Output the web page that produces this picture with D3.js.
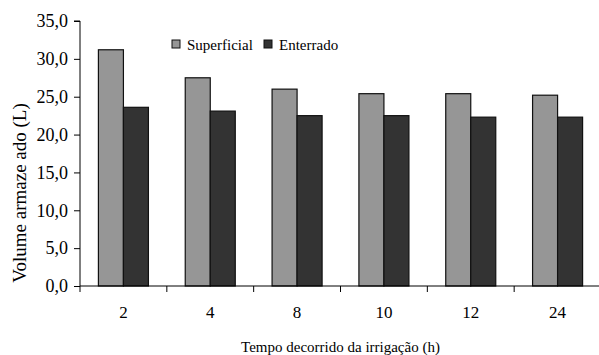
<!DOCTYPE html>
<html>
<head>
<meta charset="utf-8">
<script src="https://cdn.jsdelivr.net/npm/d3@7"></script>
<style>
  body { margin: 0; background: #fff; }
</style>
</head>
<body>
<svg id="chart" width="599" height="355"></svg>
<script>
const categories = ["2", "4", "8", "10", "12", "24"];
const seriesNames = ["Superficial", "Enterrado"];
const superficial = [31.2, 27.5, 26.0, 25.4, 25.4, 25.2];
const enterrado = [23.6, 23.1, 22.5, 22.5, 22.3, 22.3];
const yTicks = [0, 5, 10, 15, 20, 25, 30, 35];
const colors = ["#969696", "#333333"];

const serif = "'Liberation Serif', 'DejaVu Serif', Times, serif";
const svg = d3.select("#chart");
const plotLeft = 80, plotRight = 601, plotTop = 21, plotBottom = 286;

const rows = categories.map((c, i) => ({ cat: c, values: [superficial[i], enterrado[i]] }));

const x0 = d3.scaleBand().domain(categories).range([plotLeft, plotRight]).padding(0);
const x1 = d3.scaleBand().domain(seriesNames).range([0, x0.bandwidth()])
    .paddingInner(0).paddingOuter(0.736);
const y = d3.scaleLinear().domain([0, 35]).range([plotBottom, plotTop]);
const fmt = v => d3.format(".1f")(v).replace(".", ",");

// bars
const groups = svg.append("g").selectAll("g")
    .data(rows)
    .join("g")
    .attr("transform", d => `translate(${x0(d.cat)},0)`);

groups.selectAll("rect")
    .data(d => d.values.map((v, i) => ({ name: seriesNames[i], value: v, i })))
    .join("rect")
    .attr("x", d => x1(d.name))
    .attr("y", d => y(d.value))
    .attr("width", x1.bandwidth())
    .attr("height", d => y(0) - y(d.value))
    .attr("fill", d => colors[d.i])
    .attr("stroke", "#111")
    .attr("stroke-width", 1.2);

// y axis
const yAxis = svg.append("g")
    .attr("transform", `translate(${plotLeft},0)`)
    .call(d3.axisLeft(y).tickValues(yTicks).tickFormat(fmt).tickSize(6).tickPadding(6));
yAxis.attr("font-family", serif).attr("font-size", 18);
yAxis.select(".domain").attr("d", `M-6,${plotTop}H0V${plotBottom}`).attr("stroke", "#000");
yAxis.selectAll(".tick line").attr("stroke", "#000");
yAxis.selectAll("text").attr("fill", "#000");

// x axis
const xAxis = svg.append("g")
    .attr("transform", `translate(0,${plotBottom})`)
    .attr("font-family", serif);
xAxis.append("line")
    .attr("x1", plotLeft).attr("x2", plotRight)
    .attr("stroke", "#000");
xAxis.selectAll(".xtick")
    .data(categories.concat([null]))
    .join("line")
    .attr("class", "xtick")
    .attr("x1", (d, i) => plotLeft + i * x0.step())
    .attr("x2", (d, i) => plotLeft + i * x0.step())
    .attr("y1", 0).attr("y2", 6)
    .attr("stroke", "#000");
xAxis.selectAll(".xlabel")
    .data(categories)
    .join("text")
    .attr("class", "xlabel")
    .attr("x", d => x0(d) + x0.bandwidth() / 2)
    .attr("y", 32)
    .attr("text-anchor", "middle")
    .attr("font-size", 17)
    .text(d => d);

// axis titles
svg.append("text")
    .attr("x", (plotLeft + plotRight) / 2)
    .attr("y", 352)
    .attr("text-anchor", "middle")
    .attr("font-family", serif)
    .attr("font-size", 15)
    .text("Tempo decorrido da irrigação (h)");

svg.append("text")
    .attr("transform", "translate(26,193) rotate(-90)")
    .attr("text-anchor", "middle")
    .attr("font-family", serif)
    .attr("font-size", 19)
    .text("Volume armaze ado (L)");

// legend
const legendX = [172, 264];
const legend = svg.append("g")
    .attr("font-family", serif)
    .selectAll("g")
    .data(seriesNames)
    .join("g")
    .attr("transform", (d, i) => `translate(${legendX[i]},40)`);
legend.append("rect")
    .attr("width", 8).attr("height", 8)
    .attr("fill", (d, i) => colors[i])
    .attr("stroke", "#111");
legend.append("text")
    .attr("x", 15).attr("y", 9.5)
    .attr("font-size", 15)
    .text(d => d);
</script>
</body>
</html>
